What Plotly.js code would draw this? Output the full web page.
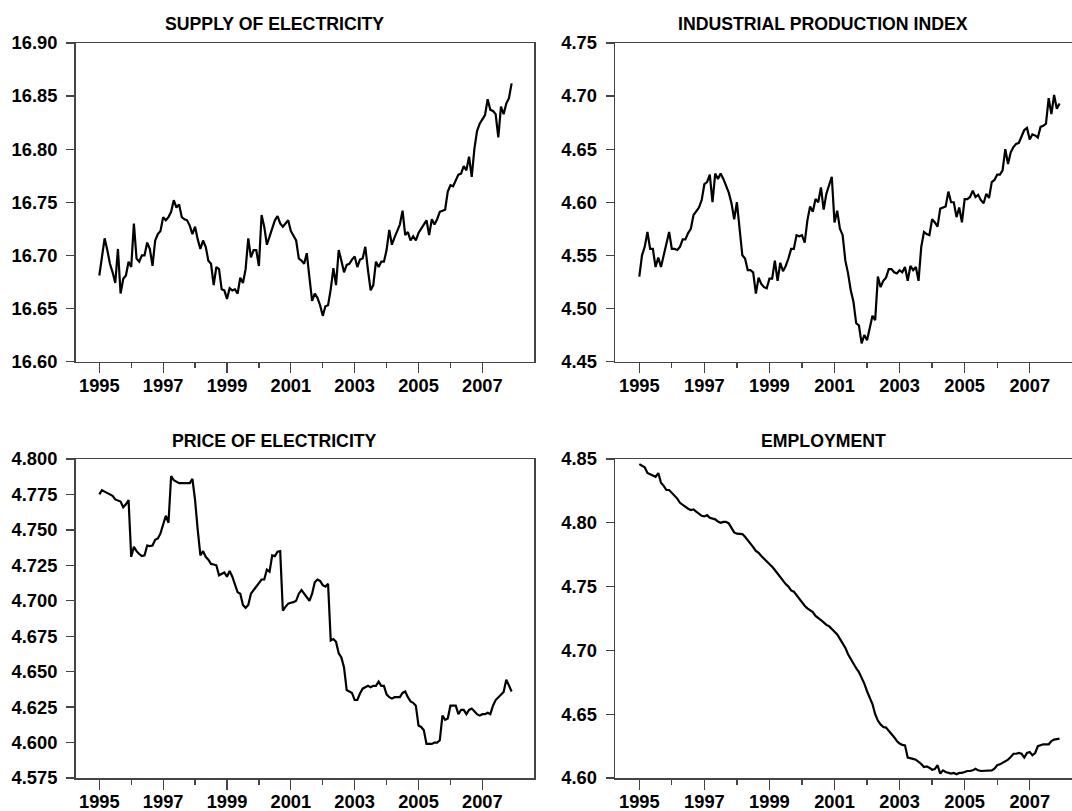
<!DOCTYPE html>
<html><head><meta charset="utf-8">
<script src="https://cdn.plot.ly/plotly-3.0.1.min.js"></script>
<style>html,body{margin:0;padding:0;background:#fff;overflow:hidden}</style>
</head><body>
<div id="chart" style="width:1072px;height:811px"></div>
<script>
// Monthly observations, January 1995 to December 2007
const startYear = 1995;

const supplyOfElectricity = [
16.681,16.701,16.716,16.705,16.692,16.684,16.674,16.706,16.664,16.678,
16.681,16.694,16.689,16.730,16.697,16.694,16.700,16.700,16.712,16.706,
16.690,16.714,16.720,16.723,16.736,16.733,16.736,16.741,16.752,16.745,
16.748,16.736,16.734,16.733,16.728,16.720,16.727,16.715,16.706,16.714,
16.708,16.695,16.692,16.672,16.689,16.687,16.668,16.667,16.659,16.669,
16.667,16.668,16.664,16.679,16.674,16.687,16.716,16.698,16.705,16.705,
16.690,16.738,16.727,16.710,16.718,16.726,16.733,16.737,16.730,16.727,
16.730,16.733,16.723,16.718,16.714,16.697,16.695,16.692,16.702,16.679,
16.657,16.664,16.660,16.653,16.643,16.652,16.653,16.668,16.688,16.672,
16.705,16.695,16.684,16.691,16.692,16.696,16.699,16.689,16.696,16.697,
16.708,16.686,16.667,16.672,16.694,16.689,16.694,16.694,16.705,16.724,
16.710,16.717,16.724,16.729,16.742,16.719,16.722,16.714,16.718,16.714,
16.721,16.725,16.729,16.733,16.719,16.734,16.729,16.734,16.741,16.742,
16.743,16.760,16.766,16.765,16.771,16.776,16.777,16.784,16.780,16.793,
16.774,16.800,16.817,16.824,16.828,16.832,16.847,16.837,16.836,16.833,
16.811,16.840,16.833,16.843,16.848,16.862];

const industrialProduction = [
4.530,4.550,4.558,4.572,4.556,4.556,4.539,4.548,4.539,4.551,
4.561,4.572,4.556,4.556,4.555,4.558,4.565,4.565,4.571,4.575,
4.588,4.592,4.595,4.602,4.617,4.619,4.626,4.600,4.627,4.622,
4.627,4.622,4.616,4.609,4.599,4.584,4.600,4.577,4.550,4.547,
4.536,4.536,4.534,4.514,4.529,4.523,4.520,4.519,4.528,4.528,
4.545,4.526,4.543,4.535,4.540,4.547,4.556,4.556,4.569,4.568,
4.569,4.562,4.583,4.596,4.591,4.603,4.600,4.614,4.593,4.608,
4.615,4.624,4.581,4.592,4.575,4.569,4.545,4.533,4.517,4.506,
4.486,4.484,4.467,4.475,4.470,4.482,4.493,4.489,4.530,4.520,
4.526,4.529,4.537,4.537,4.534,4.533,4.536,4.534,4.539,4.526,
4.540,4.536,4.539,4.526,4.558,4.572,4.570,4.569,4.584,4.581,
4.577,4.594,4.595,4.596,4.610,4.600,4.600,4.586,4.595,4.581,
4.603,4.603,4.605,4.611,4.605,4.607,4.602,4.599,4.608,4.604,
4.619,4.621,4.626,4.626,4.630,4.650,4.636,4.647,4.652,4.655,
4.656,4.663,4.668,4.670,4.659,4.664,4.663,4.661,4.671,4.672,
4.674,4.698,4.683,4.701,4.688,4.693];

const priceOfElectricity = [
4.775,4.778,4.777,4.776,4.775,4.774,4.7715,4.771,4.770,4.766,
4.768,4.771,4.731,4.738,4.735,4.733,4.7315,4.732,4.739,4.7386,
4.739,4.743,4.744,4.7475,4.753,4.760,4.755,4.788,4.785,4.784,
4.783,4.783,4.783,4.783,4.783,4.786,4.771,4.750,4.732,4.735,
4.731,4.729,4.726,4.7256,4.725,4.718,4.719,4.720,4.717,4.721,
4.717,4.712,4.706,4.705,4.697,4.695,4.697,4.705,4.7075,4.710,
4.713,4.715,4.715,4.722,4.7205,4.732,4.7315,4.7346,4.735,4.693,
4.6957,4.698,4.6986,4.699,4.700,4.705,4.7075,4.705,4.702,4.700,
4.705,4.713,4.715,4.714,4.711,4.710,4.712,4.672,4.673,4.671,
4.663,4.660,4.653,4.637,4.636,4.635,4.630,4.630,4.6346,4.638,
4.639,4.640,4.639,4.640,4.640,4.643,4.640,4.640,4.634,4.632,
4.631,4.632,4.632,4.632,4.635,4.636,4.632,4.629,4.628,4.626,
4.612,4.611,4.6087,4.599,4.599,4.599,4.600,4.600,4.6016,4.619,
4.616,4.617,4.626,4.626,4.626,4.620,4.623,4.623,4.620,4.623,
4.624,4.622,4.620,4.619,4.620,4.620,4.621,4.620,4.626,4.630,
4.632,4.634,4.6357,4.6444,4.640,4.636];

const employment = [
4.846,4.845,4.8435,4.839,4.838,4.8375,4.836,4.839,4.8314,4.829,
4.8257,4.8257,4.8236,4.821,4.819,4.8157,4.814,4.8126,4.811,4.810,
4.8105,4.8087,4.8069,4.8055,4.805,4.806,4.804,4.8035,4.8027,4.801,
4.800,4.8007,4.8007,4.7995,4.7964,4.7925,4.7915,4.7915,4.7912,4.789,
4.7865,4.784,4.781,4.778,4.7765,4.774,4.772,4.770,4.768,4.7655,
4.763,4.760,4.757,4.755,4.752,4.750,4.747,4.746,4.743,4.740,
4.737,4.735,4.733,4.7316,4.730,4.727,4.725,4.7238,4.722,4.720,
4.719,4.717,4.715,4.7125,4.709,4.706,4.702,4.697,4.693,4.689,
4.686,4.683,4.679,4.674,4.668,4.663,4.658,4.650,4.645,4.642,
4.640,4.6395,4.637,4.635,4.632,4.629,4.627,4.626,4.6256,4.616,
4.6152,4.615,4.6144,4.613,4.611,4.6086,4.609,4.608,4.6065,4.607,
4.610,4.6034,4.606,4.6047,4.604,4.6034,4.604,4.6029,4.604,4.604,
4.6047,4.6055,4.6055,4.606,4.6073,4.606,4.6055,4.6055,4.6055,4.6055,
4.606,4.6073,4.610,4.6107,4.612,4.6133,4.6144,4.6165,4.619,4.619,
4.6196,4.619,4.616,4.6196,4.6204,4.6178,4.6196,4.6249,4.6256,4.6264,
4.6264,4.6264,4.629,4.6301,4.6305,4.6309];

const panelTitles = ['SUPPLY OF ELECTRICITY','INDUSTRIAL PRODUCTION INDEX','PRICE OF ELECTRICITY','EMPLOYMENT'];
const majorYears = [1995,1997,1999,2001,2003,2005,2007];
const minorYears = [1996,1998,2000,2002,2004,2006];
const supplyTicks = [16.60,16.65,16.70,16.75,16.80,16.85,16.90];
const industrialTicks = [4.45,4.50,4.55,4.60,4.65,4.70,4.75];
const priceTicks = [4.575,4.600,4.625,4.650,4.675,4.700,4.725,4.750,4.775,4.800];
const employmentTicks = [4.60,4.65,4.70,4.75,4.80,4.85];

const xDates = supplyOfElectricity.map((_, i) => startYear + i / 12);

const W = 1072, H = 811;
const LINE = '#444444';
const tickFont = {family: 'Liberation Sans, Arial, sans-serif', size: 18.3, weight: 'bold', color: '#000'};
const titleFont = {family: 'Liberation Sans, Arial, sans-serif', size: 17.7, weight: 'bold', color: '#000'};

function xax(domain, range, anchor) {
  return {domain, range, anchor, showline: true, linecolor: LINE, linewidth: 1.5, mirror: true,
    ticks: 'outside', ticklen: 10, tickwidth: 1.3, tickcolor: LINE, ticklabelstandoff: -3,
    tickmode: 'array', tickvals: majorYears, ticktext: majorYears.map(String),
    tickfont: tickFont, showgrid: false, zeroline: false, automargin: false, fixedrange: true,
    minor: {tickmode: 'array', tickvals: minorYears, ticks: 'outside', ticklen: 5, tickwidth: 1.3, tickcolor: LINE, showgrid: false}};
}
function yax(domain, ticks, fmt, anchor, mirror) {
  return {domain, range: [ticks[0], ticks[ticks.length - 1]], anchor, showline: true, linecolor: LINE, linewidth: 1.5,
    mirror, ticks: 'outside', ticklen: 8, tickwidth: 1.3, tickcolor: LINE, ticklabelstandoff: 5,
    tickmode: 'array', tickvals: ticks, ticktext: ticks.map(v => v.toFixed(fmt)),
    tickfont: tickFont, showgrid: false, zeroline: false, automargin: false, fixedrange: true};
}

const dLeft = [75.5 / W, 534 / W];
const dRight = [615 / W, 1];
const dTop = [1 - 361.5 / H, 1 - 43 / H];
const dBot = [1 - 778 / H, 1 - 459 / H];
const rangeLeft = [1994.254, 2008.618];
const rangeRight = [1994.253, 2008.30];

const lineStyle = {color: '#000', width: 2.2};
const traces = [
  {x: xDates, y: supplyOfElectricity, xaxis: 'x', yaxis: 'y', type: 'scatter', mode: 'lines', line: lineStyle},
  {x: xDates, y: industrialProduction, xaxis: 'x2', yaxis: 'y2', type: 'scatter', mode: 'lines', line: lineStyle},
  {x: xDates, y: priceOfElectricity, xaxis: 'x3', yaxis: 'y3', type: 'scatter', mode: 'lines', line: lineStyle},
  {x: xDates, y: employment, xaxis: 'x4', yaxis: 'y4', type: 'scatter', mode: 'lines', line: lineStyle}
];

const titlePos = [[274.5, 24.5], [823.3, 24.5], [274.5, 441], [823.3, 441]];
const annotations = panelTitles.map((t, i) => ({
  text: t, xref: 'paper', yref: 'paper', x: titlePos[i][0] / W, y: 1 - titlePos[i][1] / H,
  xanchor: 'center', yanchor: 'middle', showarrow: false, font: titleFont
}));

const layout = {
  width: W, height: H, margin: {l: 0, r: 0, t: 0, b: 0, pad: 0},
  paper_bgcolor: '#fff', plot_bgcolor: '#fff', showlegend: false,
  xaxis: xax(dLeft, rangeLeft, 'y'),
  yaxis: yax(dTop, supplyTicks, 2, 'x', true),
  xaxis2: xax(dRight, rangeRight, 'y2'),
  yaxis2: yax(dTop, industrialTicks, 2, 'x2', false),
  xaxis3: xax(dLeft, rangeLeft, 'y3'),
  yaxis3: yax(dBot, priceTicks, 3, 'x3', true),
  xaxis4: xax(dRight, rangeRight, 'y4'),
  yaxis4: yax(dBot, employmentTicks, 2, 'x4', false),
  annotations
};

Plotly.newPlot('chart', traces, layout, {staticPlot: true, displayModeBar: false});
</script>
</body></html>
